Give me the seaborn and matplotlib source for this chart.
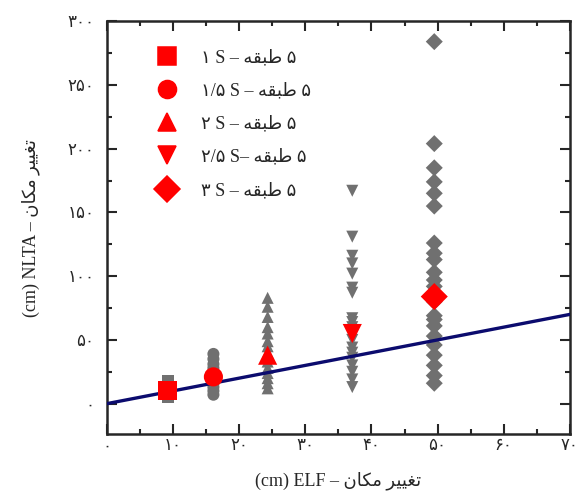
import numpy as np
import pandas as pd
import matplotlib
matplotlib.use("Agg")
import matplotlib.pyplot as plt
from matplotlib.ticker import MultipleLocator
import seaborn as sns

# data (cm)
groups = ["1s", "1.5s", "2s", "2.5s", "3s"]
elf_x = [9.2, 16.1, 24.3, 37.1, 49.5]
nlta_1s = [5, 8, 12, 15, 18]
nlta_15s = [7, 10, 13, 16, 20, 25, 28, 31, 35, 39]
nlta_2s = [12, 16, 20, 24, 28, 33, 40, 45, 49, 55, 60, 68, 76, 83]
nlta_25s = [13, 19, 25, 30, 36, 40, 44, 50, 60, 64, 67, 87, 91, 102, 110, 116, 131, 167]
nlta_3s = [16, 22, 30, 38, 46, 53, 61, 66, 69, 80, 92, 97, 103, 113, 118, 126,
           155, 165, 174, 185, 204, 284]
nlta_mean = [10, 21, 38, 55, 84]

# labels (Persian, written in visual order with presentation forms)
tabaghe = "\ufeea\ufed8\ufe92\ufec3"
taghir_makan = "\ufee5\ufe8e\ufb91\ufee3 \ufeae\ufbff\ufbff\ufed0\ufe97"
legend_labels = [
    "\u06f1 S \u2013 " + tabaghe + " \u06f5",
    "\u06f1/\u06f5 S \u2013 " + tabaghe + " \u06f5",
    "\u06f2 S \u2013 " + tabaghe + " \u06f5",
    "\u06f2/\u06f5 S\u2013 " + tabaghe + " \u06f5",
    "\u06f3 S \u2013 " + tabaghe + " \u06f5",
]
x_ticks = [0, 10, 20, 30, 40, 50, 60, 70]
y_ticks = [0, 50, 100, 150, 200, 250, 300]
fa_digits = str.maketrans("0123456789", "\u06f0\u06f1\u06f2\u06f3\u06f4\u06f5\u06f6\u06f7\u06f8\u06f9")

markers = {"1s": "s", "1.5s": "o", "2s": "^", "2.5s": "v", "3s": "D"}

sns.set_style("ticks")
plt.rcParams["font.family"] = ["Liberation Serif", "DejaVu Sans"]

all_vals = [nlta_1s, nlta_15s, nlta_2s, nlta_25s, nlta_3s]
rows = []
for g, xv, vals in zip(groups, elf_x, all_vals):
    for v in vals:
        rows.append({"group": g, "ELF": xv, "NLTA": v})
df = pd.DataFrame(rows)
df_mean = pd.DataFrame({"group": groups, "ELF": elf_x, "NLTA": nlta_mean})

fig = plt.figure(figsize=(5.75, 4.94), dpi=100)
ax = fig.add_axes([0.186, 0.121, 0.805, 0.836])

sns.scatterplot(data=df, x="ELF", y="NLTA", style="group", markers=markers,
                color="#707070", s=75, edgecolor="none", legend=False, ax=ax, zorder=2)

line_x = np.array([0, 70])
ax.plot(line_x, line_x, color="#0b0b6e", lw=2.4, zorder=3)

sns.scatterplot(data=df_mean, x="ELF", y="NLTA", style="group", markers=markers,
                color="red", s=190, edgecolor="none", ax=ax, zorder=4)

handles, _ = ax.get_legend_handles_labels()
for h in handles:
    h.set_markersize(13)
    h.set_color("red")
    h.set_markeredgecolor("red")
leg = ax.legend(handles, legend_labels, loc="upper left", frameon=False,
                bbox_to_anchor=(0.055, 0.972), labelspacing=0.9, handletextpad=0.9,
                fontsize=13)

ax.set_xlim(0, 70)
ax.set_ylim(-24, 300)
ax.set_xticks(x_ticks)
ax.set_xticklabels([str(t).translate(fa_digits) for t in x_ticks])
ax.set_yticks(y_ticks)
ax.set_yticklabels([str(t).translate(fa_digits) for t in y_ticks])
ax.xaxis.set_minor_locator(MultipleLocator(5))
ax.yaxis.set_minor_locator(MultipleLocator(25))
ax.tick_params(which="both", direction="in", top=True, right=True, width=1.5, labelsize=12)
ax.tick_params(which="major", length=7)
ax.tick_params(which="minor", length=3.5)
ax.tick_params(axis="x", which="major", pad=3)
ax.tick_params(axis="y", which="major", pad=9)
for sp in ax.spines.values():
    sp.set_linewidth(1.8)

ax.set_xlabel("(cm) ELF \u2013 " + taghir_makan, fontsize=13, labelpad=12)
ax.set_ylabel("(cm) NLTA \u2013 " + taghir_makan, fontsize=13, labelpad=20)

fig.savefig("out.png", dpi=100)
